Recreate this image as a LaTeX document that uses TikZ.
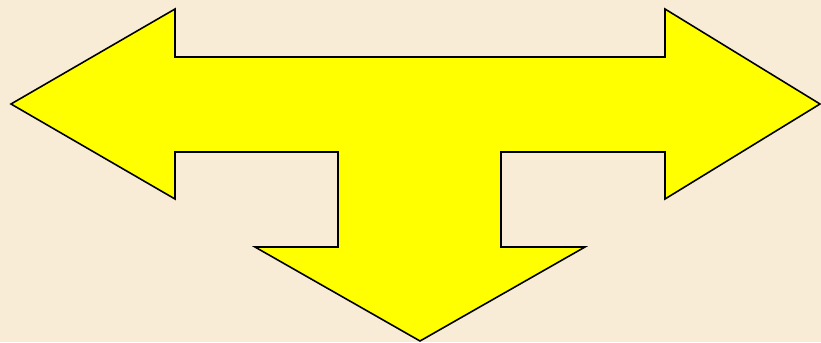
\documentclass[tikz,border=0pt]{standalone}
\usepackage{xcolor}
\usepackage{tikz}
\definecolor{bgcream}{HTML}{F8ECD6}
\definecolor{arrowyellow}{HTML}{FFFF00}

\begin{document}
\begin{tikzpicture}[
  x=0.02cm,y=-0.02cm,
  bg/.style={fill=bgcream,draw=none},
  tarrow/.style={fill=arrowyellow,draw=black,line width=0.9pt,line join=miter}
]
% ---- background, fixes the margins ----
\fill[bg] (0,0) rectangle (821,342);
\useasboundingbox (0,0) rectangle (821,342);
% ---- three-way arrow: left, right and down ----
\draw[tarrow] (11,104) -- (175,9) -- (175,57) -- (665,57) -- (665,9)
  -- (820,104) -- (665,199) -- (665,152) -- (501,152) -- (501,247)
  -- (585,247) -- (420,341) -- (255,247) -- (338,247) -- (338,152)
  -- (175,152) -- (175,199) -- cycle;
\end{tikzpicture}
\end{document}
